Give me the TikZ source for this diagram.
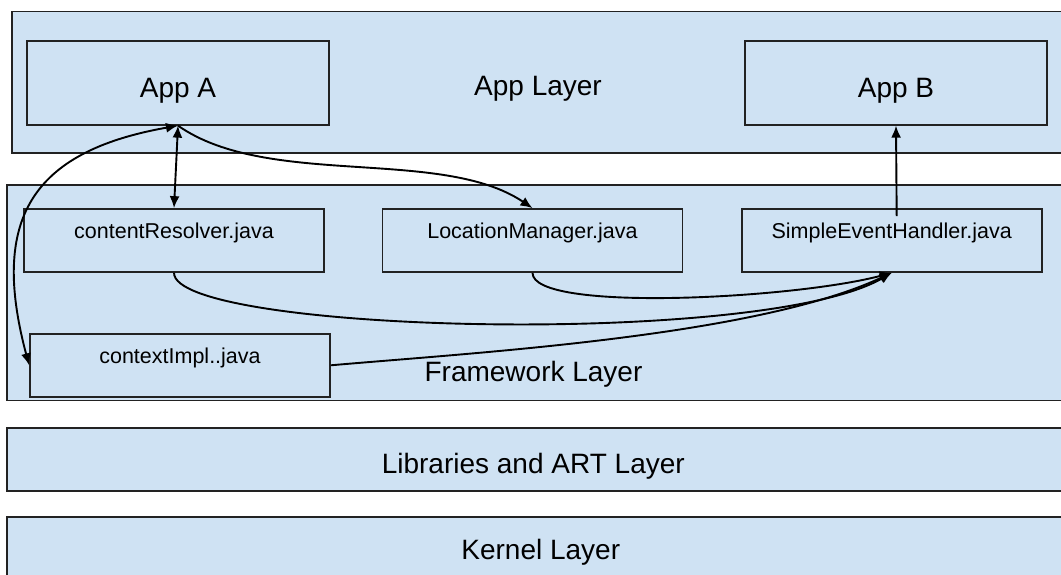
\documentclass[tikz,border=0pt]{standalone}
\usepackage{fontspec}
\setmainfont{Liberation Sans}
\usetikzlibrary{positioning}
\usetikzlibrary{arrows.meta}
\definecolor{lblue}{HTML}{CFE2F3}
\definecolor{edge}{HTML}{222222}
\tikzset{layer/.style = {draw=edge, fill=lblue, line width=1.7pt, inner sep=0}}
\tikzset{appbox/.style = {draw=edge, fill=lblue, line width=1.7pt, minimum width=302pt,
  minimum height=84pt, font=\fontsize{28}{30}\selectfont, text height=29pt, text depth=0pt}}
\tikzset{javabox/.style = {draw=edge, fill=lblue, line width=1.7pt, minimum width=300pt,
  minimum height=63pt, font=\fontsize{21.5}{24}\selectfont, text height=15pt, text depth=19.5pt}}
\tikzset{laytext/.style = {font=\fontsize{28}{30}\selectfont, anchor=base}}
\tikzset{link/.style = {line width=1.9pt, -{Latex[length=12pt,width=10pt]}}}
\tikzset{biway/.style = {line width=1.9pt, {Latex[length=12pt,width=10pt]}-{Latex[length=12pt,width=10pt]}}}

\begin{document}
\begin{tikzpicture}[x=1pt, y=1pt]
      \useasboundingbox (0, 0) rectangle (1061, 575);
      \clip (0, 0) rectangle (1061, 575);
      % layers
      \node [layer, minimum width=1054pt, minimum height=141.7pt] (applayer) at (539.2, 492.5) {};
      \node [layer, minimum width=1059pt, minimum height=215.7pt] (fwlayer) at (536.7, 282.2) {};
      \node [layer, minimum width=1059pt, minimum height=62.4pt] (liblayer) at (536.5, 115.5) {};
      \node [layer, minimum width=1059pt, minimum height=62pt] (kernlayer) at (536.5, 26.7) {};
      \node [laytext] (apptext) at (538, 479.3) {App Layer};
      \node [laytext] (fwtext) at (533.5, 193) {Framework Layer};
      \node [laytext] (libtext) at (533.3, 101.7) {Libraries and ART Layer};
      \node [laytext] (kerntext) at (540.8, 15) {Kernel Layer};
      % apps
      \node [appbox] (appA) at (178, 492.2) {App A};
      \node [appbox] (appB) at (896, 492.2) {App B};
      % framework classes
      \node [javabox] (resolver) at (174, 334.5) {contentResolver.java};
      \node [javabox] (location) at (532.5, 334.5) {LocationManager.java};
      \node [javabox] (handler) at (891.7, 334.5) {SimpleEventHandler.java};
      \node [javabox] (context) at (180, 209.7) {contextImpl..java};
      % calls
      \draw [biway] (appA.south) -- (resolver.north);
      \draw [biway] (appA.south)
        .. controls +(190:150) and +(105:150) .. (context.west);
      \draw [link] (appA.south) .. controls +(-35:110) and +(146:110) .. (location.north);
      \draw [link] (resolver.south) .. controls +(-90:60) and +(-150:150) .. (handler.south);
      \draw [link] (location.south) .. controls +(-90:40) and +(-165:100) .. (handler.south);
      \draw [link] (context.east) .. controls +(5:150) and +(-155:150) .. (handler.south);
      \draw [link] ([xshift=5pt, yshift=-8pt]handler.north) -- (appB.south);
\end{tikzpicture}
\end{document}
